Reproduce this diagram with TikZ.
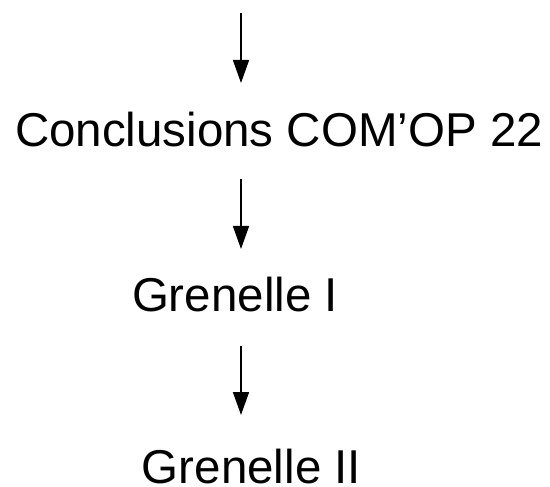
\documentclass[tikz,border=0pt]{standalone}
\usepackage{fontspec}
\setmainfont{Liberation Sans}
\usetikzlibrary{arrows.meta}
\begin{document}
\begin{tikzpicture}[x=1pt,y=-1pt,
  lbl/.style={inner sep=0pt,outer sep=0pt,anchor=base,font=\fontsize{47.5pt}{57pt}\selectfont},
  arr/.style={line width=1.6pt,-{Triangle[width=16pt,length=23pt]}}]
\useasboundingbox (0,0) rectangle (550,487);
\node[lbl] (concl) at (279,147) {Conclusions COM’OP 22};
\node[lbl] (gren1) at (235,312) {Grenelle I};
\node[lbl] (gren2) at (251.5,483) {Grenelle II};
\coordinate (s1) at (241,13);
\coordinate (e1) at (241,83);
\coordinate (s2) at (241,179);
\coordinate (e2) at (241,249);
\coordinate (s3) at (241,346);
\coordinate (e3) at (241,415);
\draw[arr] (s1) -- (e1);
\draw[arr] (s2) -- (e2);
\draw[arr] (s3) -- (e3);
\end{tikzpicture}
\end{document}
